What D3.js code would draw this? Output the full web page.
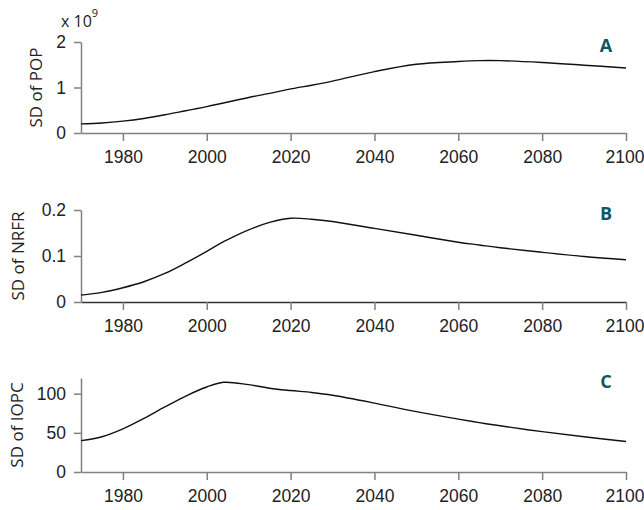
<!DOCTYPE html>
<html>
<head>
<meta charset="utf-8">
<script src="https://cdn.jsdelivr.net/npm/d3@7"></script>
<style>
  body { margin: 0; background: #fff; }
  svg { display: block; font-family: "Open Sans", sans-serif; }
  .axis path, .axis line { stroke: #808080; stroke-width: 1.5; }
</style>
</head>
<body>
<div id="chart"></div>
<script>
// years sampled from the plot
const years = [1970, 1975, 1980, 1985, 1990, 1995, 2000, 2004, 2010, 2015, 2020, 2025, 2030,
               2040, 2050, 2060, 2065, 2070, 2080, 2090, 2100];

// SD of POP (x 1e9)
const sdPop = [0.20, 0.22, 0.26, 0.32, 0.40, 0.49, 0.58, 0.66, 0.78, 0.87, 0.97, 1.05, 1.14,
               1.35, 1.51, 1.57, 1.59, 1.59, 1.55, 1.49, 1.43];
// SD of NRFR
const sdNrfr = [0.015, 0.021, 0.031, 0.044, 0.062, 0.085, 0.110, 0.131, 0.157, 0.173, 0.182, 0.180, 0.175,
                0.160, 0.145, 0.130, 0.124, 0.118, 0.108, 0.099, 0.092];
// SD of IOPC
const sdIopc = [40, 45, 55, 68.5, 83, 97, 108.5, 114.5, 111.5, 107, 104, 101.5, 98,
                88, 77, 67.5, 63, 59, 51.5, 45, 39];

const xTicks = [1980, 2000, 2020, 2040, 2060, 2080, 2100];

const panels = [
  { key: "A", label: "SD of POP", values: sdPop, domain: [0, 2], ticks: [0, 1, 2], fmt: d3.format("d"), top: 42, bottom: 133, titleX: 42, xAxisColor: "#808080" },
  { key: "B", label: "SD of NRFR", values: sdNrfr, domain: [0, 0.2], ticks: [0, 0.1, 0.2], fmt: d => d === 0 ? "0" : d3.format(".1f")(d), top: 210, bottom: 302, titleX: 24, xAxisColor: "#333" },
  { key: "C", label: "SD of IOPC", values: sdIopc, domain: [0, 120], ticks: [0, 50, 100], fmt: d3.format("d"), top: 378, bottom: 472, titleX: 23, xAxisColor: "#808080" }
];

const width = 644, height = 510;
const left = 81, right = 626;

const svg = d3.select("#chart").append("svg")
  .attr("width", width)
  .attr("height", height);

const x = d3.scaleLinear().domain([1970, 2100]).range([left, right]);

panels.forEach(p => {
  const y = d3.scaleLinear().domain(p.domain).range([p.bottom, p.top]);
  const g = svg.append("g");

  // x axis
  const xa = g.append("g")
    .attr("class", "axis")
    .attr("transform", `translate(0,${p.bottom})`)
    .call(d3.axisBottom(x).tickValues(xTicks).tickFormat(d3.format("d")).tickSizeInner(8).tickSizeOuter(0).tickPadding(10));
  xa.select(".domain").style("stroke", p.xAxisColor);
  // keep the last year label inside the window
  xa.selectAll(".tick text").filter(d => d === 2100).attr("text-anchor", "end").attr("x", 18);

  // y axis
  g.append("g")
    .attr("class", "axis")
    .attr("transform", `translate(${left},0)`)
    .call(d3.axisLeft(y).tickValues(p.ticks).tickFormat(p.fmt).tickSizeInner(7).tickSizeOuter(0).tickPadding(8));

  g.selectAll(".tick text").style("font-size", "17.5px").attr("fill", "#222");

  // y title
  g.append("text")
    .attr("transform", `translate(${p.titleX},${(p.top + p.bottom) / 2}) rotate(-90)`)
    .attr("text-anchor", "middle")
    .style("font-size", "17px")
    .attr("fill", "#222")
    .text(p.label);

  // series
  const line = d3.line()
    .x((d, i) => x(years[i]))
    .y(d => y(d))
    .curve(d3.curveCatmullRom.alpha(0.5));

  g.append("path")
    .datum(p.values)
    .attr("fill", "none")
    .attr("stroke", "#111")
    .attr("stroke-width", 1.4)
    .attr("d", line);

  // panel letter
  g.append("text")
    .attr("x", 606)
    .attr("y", p.top + 10)
    .attr("text-anchor", "middle")
    .style("font-size", "18px")
    .style("font-weight", "bold")
    .attr("fill", "#0f5662")
    .text(p.key);
});

// multiplier for panel A
const mult = svg.append("text")
  .attr("x", 61)
  .attr("y", 27)
  .style("font-size", "16px")
  .attr("fill", "#222");
mult.append("tspan").text("x 10");
mult.append("tspan").attr("dy", -10).style("font-size", "11px").text("9");
</script>
</body>
</html>
